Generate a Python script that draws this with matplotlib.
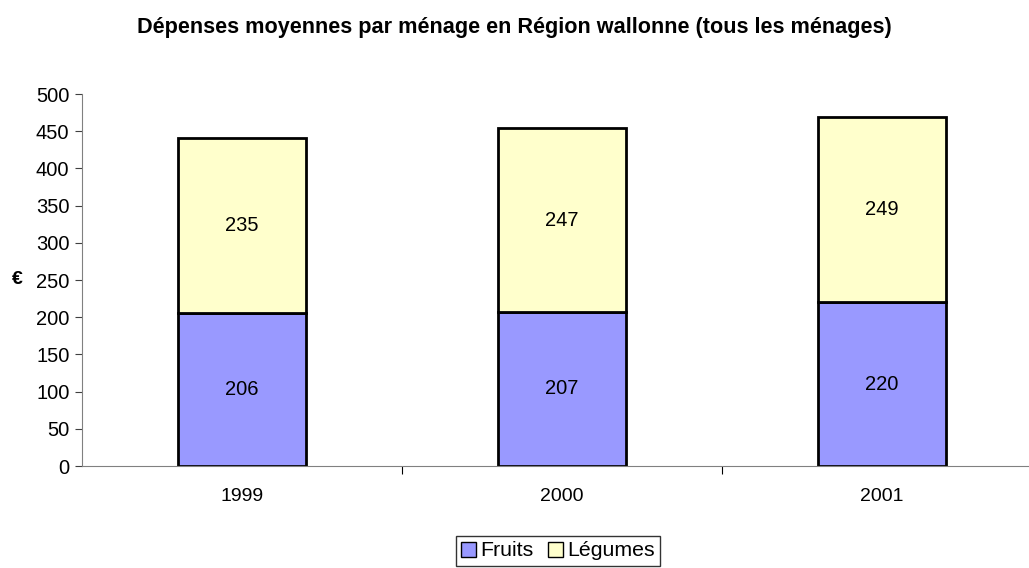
import matplotlib.pyplot as plt
from matplotlib.patches import Patch

plt.rcParams['font.family'] = ['Liberation Sans', 'DejaVu Sans']

years = ['1999', '2000', '2001']
fruits = [206, 207, 220]
legumes = [235, 247, 249]

fig = plt.figure(figsize=(10.29, 5.68), dpi=100)
ax = fig.add_axes([82 / 1029, 102 / 568, 947 / 1029, 372 / 568])

x = range(len(years))
ax.bar(x, fruits, width=0.4, color='#9999ff', edgecolor='black', linewidth=2)
ax.bar(x, legumes, width=0.4, bottom=fruits, color='#ffffcc', edgecolor='black', linewidth=2)

for i in x:
    ax.text(i, fruits[i] / 2, str(fruits[i]), ha='center', va='center', fontsize=14.5)
    ax.text(i, fruits[i] + legumes[i] / 2, str(legumes[i]), ha='center', va='center', fontsize=14.5)

ax.set_xlim(-0.5, -0.5 + 947 / 320)
ax.set_ylim(0, 500)
ax.set_yticks(range(0, 501, 50))
ax.tick_params(axis='y', labelsize=14.5, length=5, color='#404040', pad=4)

# category labels without ticks, separators between categories
ax.set_xticks([0.5, 1.5])
ax.set_xticklabels([])
ax.tick_params(axis='x', length=6, color='black')
for i, y in enumerate(years):
    ax.text(i, -30, y, ha='center', va='top', fontsize=14)

for s in ['top', 'right']:
    ax.spines[s].set_visible(False)
ax.spines['left'].set_color('#808080')
ax.spines['bottom'].set_color('#808080')

ax.set_ylabel('€', fontsize=14, fontweight='bold', rotation=0, va='center', ha='center')
ax.yaxis.set_label_coords(-0.068, 0.5)

fig.text(0.5, 1 - 28 / 568, 'Dépenses moyennes par ménage en Région wallonne (tous les ménages)',
         ha='center', va='center', fontsize=15.6, fontweight='bold')

handles = [Patch(facecolor='#9999ff', edgecolor='black', label='Fruits'),
           Patch(facecolor='#ffffcc', edgecolor='black', label='Légumes')]
fig.legend(handles=handles, loc='center', bbox_to_anchor=(558 / 1029, 1 - 551 / 568), ncol=2,
           fontsize=15.3, frameon=True, fancybox=False, edgecolor='black', handlelength=0.7,
           handleheight=0.7, handletextpad=0.2, columnspacing=0.7, borderpad=0.25, borderaxespad=0)

fig.savefig('out.png', dpi=100)
